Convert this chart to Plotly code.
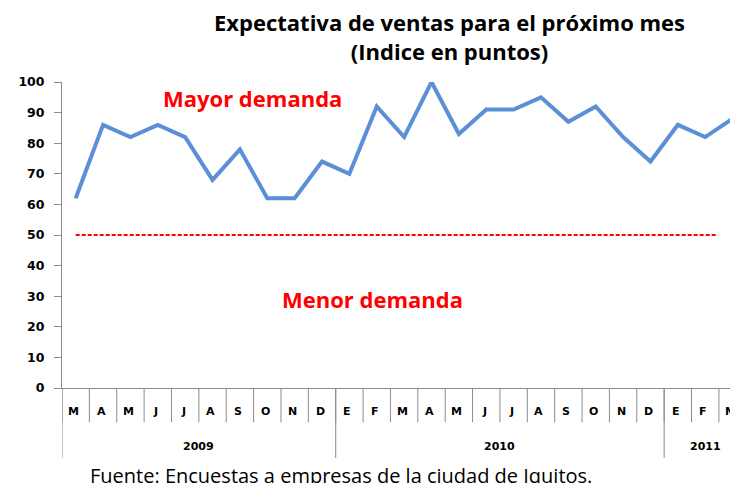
import plotly.graph_objects as go

# ---- data ----
months = ["M", "A", "M", "J", "J", "A", "S", "O", "N", "D",
          "E", "F", "M", "A", "M", "J", "J", "A", "S", "O", "N", "D",
          "E", "F", "M"]
values = [62, 86, 82, 86, 82, 68, 78, 62, 62, 74,
          70, 92, 82, 100, 83, 91, 91, 95, 87, 92, 82, 74,
          86, 82, 88]
years = ["2009", "2010", "2011"]
year_counts = [10, 12, 3]
threshold = 50
y_ticks = [0, 10, 20, 30, 40, 50, 60, 70, 80, 90, 100]

title_text = "Expectativa de ventas para el próximo mes<br>(Indice en puntos)"
upper_label = "Mayor demanda"
lower_label = "Menor demanda"
source_text = "Fuente: Encuestas a empresas de la ciudad de Iquitos."

# ---- figure ----
idx = list(range(len(values)))
fig = go.Figure()

fig.add_trace(go.Scatter(
    x=idx, y=values, mode="lines",
    line=dict(color="#5B8FD6", width=4),
    hoverinfo="skip", showlegend=False, cliponaxis=False))

fig.add_trace(go.Scatter(
    x=[0, 23.42], y=[threshold, threshold], mode="lines",
    line=dict(color="#FF0000", width=1.8, dash="4px,2px"),
    hoverinfo="skip", showlegend=False))

axis_gray = "#8C8C8C"
shapes = []
# month separators
for i in range(len(months) + 1):
    shapes.append(dict(type="line", xref="x", yref="paper",
                       x0=i - 0.5, x1=i - 0.5, y0=0, y1=-0.112,
                       line=dict(color=axis_gray, width=1)))
# year separators
start = 0
year_bounds = [0]
for c in year_counts:
    start += c
    year_bounds.append(start)
for b in year_bounds[:-1]:
    shapes.append(dict(type="line", xref="x", yref="paper",
                       x0=b - 0.5, x1=b - 0.5, y0=0, y1=-0.229,
                       line=dict(color=axis_gray, width=1)))

annotations = []
for i, m in enumerate(months):
    annotations.append(dict(x=i, y=-0.078, xref="x", yref="paper",
                            text="<b>" + m + "</b>", showarrow=False, xshift=-2,
                            font=dict(family="DejaVu Sans", size=11, color="#000000"),
                            xanchor="center", yanchor="middle"))
for k, yr in enumerate(years):
    a, b = year_bounds[k], year_bounds[k + 1]
    cx = (a + b - 1) / 2
    annotations.append(dict(x=cx, y=-0.19, xref="x", yref="paper",
                            text="<b>" + yr + "</b>", showarrow=False,
                            font=dict(family="DejaVu Sans", size=11, color="#000000"),
                            xanchor="center", yanchor="middle"))

annotations.append(dict(x=6.47, y=94.8, xref="x", yref="y",
                        text="<b>" + upper_label + "</b>", showarrow=False,
                        font=dict(family="Open Sans", size=22, color="#FF0000"),
                        xanchor="center", yanchor="middle"))
annotations.append(dict(x=10.85, y=29.1, xref="x", yref="y",
                        text="<b>" + lower_label + "</b>", showarrow=False,
                        font=dict(family="Open Sans", size=22, color="#FF0000"),
                        xanchor="center", yanchor="middle"))
annotations.append(dict(x=0.5665, y=1.148, xref="paper", yref="paper",
                        text="<b>" + title_text + "</b>", showarrow=False,
                        borderpad=0,
                        font=dict(family="Open Sans", size=22, color="#000000"),
                        xanchor="center", yanchor="middle"))
annotations.append(dict(x=0.038, y=-0.286, xref="paper", yref="paper",
                        text=source_text, showarrow=False,
                        font=dict(family="Open Sans", size=20, color="#000000"),
                        xanchor="left", yanchor="middle"))

fig.update_layout(
    width=738, height=483,
    margin=dict(l=54, r=0, t=74, b=103),
    paper_bgcolor="white", plot_bgcolor="white",
    shapes=shapes, annotations=annotations,
    xaxis=dict(range=[-0.5, 24.49], showgrid=False, zeroline=False,
               showticklabels=False, ticks="",
               showline=True, linecolor=axis_gray, linewidth=1),
    yaxis=dict(range=[0, 100], tickvals=y_ticks, showgrid=False, zeroline=False,
               showline=True, linecolor=axis_gray, linewidth=1,
               ticks="outside", ticklen=7, tickcolor=axis_gray,
               tickfont=dict(family="DejaVu Sans", size=12.5, color="#000000", weight="bold"),
               ticklabelstandoff=7),
)

fig.write_html("out.html")
